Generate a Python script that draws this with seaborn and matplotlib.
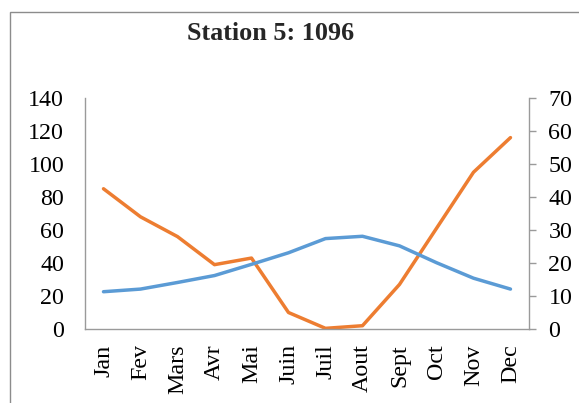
import pandas as pd
import matplotlib.pyplot as plt
import seaborn as sns
from matplotlib.patches import Rectangle

sns.set_theme(style="white")
plt.rcParams['font.family'] = ['Liberation Serif', 'DejaVu Serif']

# Données
mois = ['Jan', 'Fev', 'Mars', 'Avr', 'Mai', 'Juin', 'Juil', 'Aout', 'Sept', 'Oct', 'Nov', 'Dec']
precip = [85, 68, 56, 39, 43, 10, 0.4, 2, 27, 61, 95, 116]
temp = [11.3, 12.1, 14.1, 16.2, 19.6, 23.1, 27.4, 28.1, 25.2, 20.1, 15.4, 12.1]

df = pd.DataFrame({'Mois': mois, 'P': precip, 'T': temp})
df['x'] = range(len(mois))

fig = plt.figure(figsize=(5.79, 4.03), dpi=100)
ax = fig.add_axes([0.1468, 0.1836, 0.7668, 0.5732])
ax2 = ax.twinx()

sns.lineplot(data=df, x='x', y='P', ax=ax, color='#ED7D31', linewidth=2.5)
sns.lineplot(data=df, x='x', y='T', ax=ax2, color='#5B9BD5', linewidth=2.5)

ax.set_xlim(-0.5, len(mois) - 0.5)
ax.set_ylim(0, 140)
ax2.set_ylim(0, 70)
ax.set_yticks(range(0, 141, 20))
ax2.set_yticks(range(0, 71, 10))
ax.set_xticks(df['x'])
ax.set_xticklabels(mois, rotation=90)
ax.set_xlabel('')
ax.set_ylabel('')
ax2.set_ylabel('')

for a in (ax, ax2):
    for s in a.spines.values():
        s.set_visible(False)
ax.spines['left'].set_visible(True)
ax.spines['bottom'].set_visible(True)
ax2.spines['right'].set_visible(True)
for s in (ax.spines['left'], ax.spines['bottom'], ax2.spines['right']):
    s.set_color('#9a9a9a')
    s.set_linewidth(1)

ax.tick_params(axis='y', length=0, pad=15, labelsize=17.3, colors='black')
ax.tick_params(axis='x', length=0, pad=11, labelsize=17.3, colors='black')
ax2.tick_params(axis='y', length=5, width=1, color='#9a9a9a', pad=9, labelsize=17.3,
                labelcolor='black', direction='out')

fig.text(271 / 579, 1 - 33 / 403, 'Station 5: 1096', ha='center', va='center',
         fontsize=18.8, fontweight='bold')

# cadre du graphique
fig.patches.append(Rectangle((10 / 579, -0.1), 1.2, 1 - 12 / 403 + 0.1,
                             transform=fig.transFigure, fill=False,
                             edgecolor='#8c8c8c', linewidth=1))

plt.savefig('out.png', dpi=100)
